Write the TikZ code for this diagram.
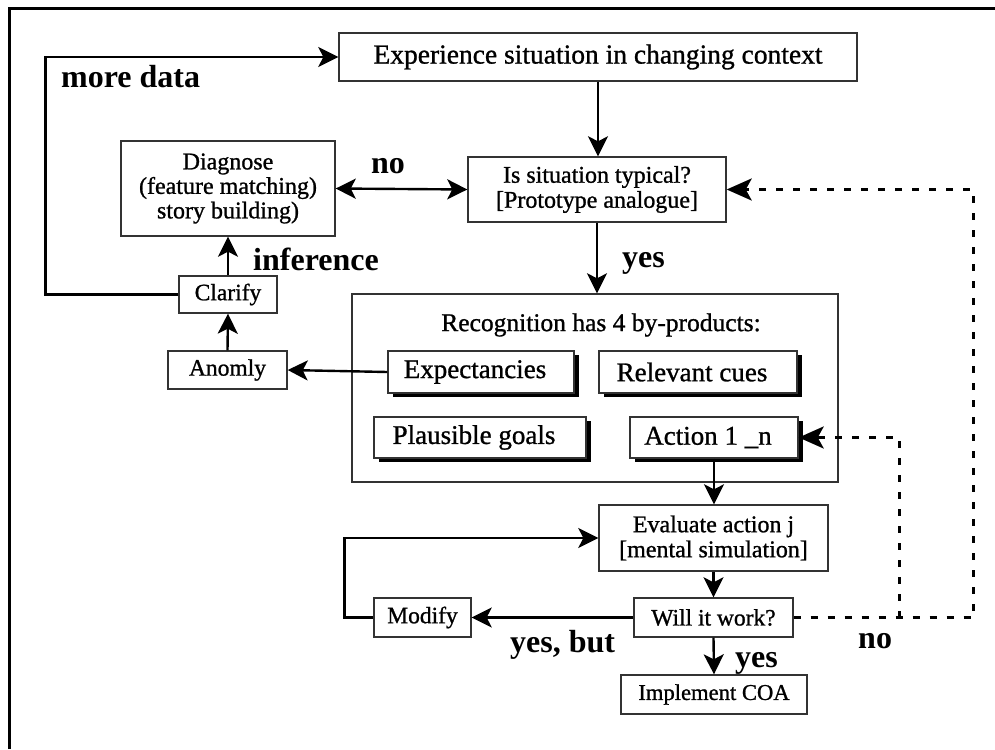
\documentclass[tikz,border=0pt]{standalone}
\usepackage{fontspec}
\setmainfont{Liberation Serif}
\newfontfamily\medfont{Liberation Serif}[FakeBold=1]
\usetikzlibrary{arrows.meta,shadows,calc}
\newcommand\fsz[2]{\fontsize{#1}{#2}\selectfont}
\newcommand\lpad[1]{#1\hspace*{12pt}}
\begin{document}
\begin{tikzpicture}[x=1pt,y=-1pt,
  box/.style={draw=black!80, line width=1.4pt, fill=white, inner sep=0pt, align=center},
  shbox/.style={box, drop shadow={shadow xshift=5pt, shadow yshift=-4pt, fill=black, opacity=1}},
  lbl/.style={font=\bfseries\fsz{32}{34}, inner sep=0pt},
  arr/.style={line width=2.4pt, -{Stealth[length=20pt,width=20pt,inset=5pt]}},
  dblarr/.style={line width=2.4pt, {Stealth[length=20pt,width=20pt,inset=5pt]}-{Stealth[length=20pt,width=20pt,inset=5pt]}},
  dasharr/.style={line width=3pt, dash pattern=on 7pt off 10pt, -{Stealth[length=25pt,width=22pt,inset=6pt]}},
]
% page and frame
\fill[white] (0,0) rectangle (995,749);
\useasboundingbox (0,0) rectangle (995,749);
\draw[line width=3pt] (9.5,749) -- (9.5,8.5) -- (995,8.5);

% main boxes
\node[box, minimum width=518pt, minimum height=48pt, font=\medfont\fsz{27.5}{30}] (exp) at (598,57) {Experience situation in changing context};
\node[box, minimum width=214pt, minimum height=95pt, font=\medfont\fsz{24}{24.5}] (diag) at (228,188.5) {Diagnose\\(feature matching)\\story building)};
\node[box, minimum width=258pt, minimum height=65pt, font=\medfont\fsz{24}{25}] (typ) at (597,189.5) {Is situation typical?\\{[Prototype analogue]}};
\node[box, minimum width=98pt, minimum height=37pt, font=\medfont\fsz{23.5}{25}] (clar) at (228,294.5) {Clarify};
\node[box, minimum width=119pt, minimum height=38pt, font=\medfont\fsz{23.5}{25}] (anom) at (227.5,370) {Anomly};

% recognition group with its four by-products
\node[box, minimum width=486pt, minimum height=188pt] (rec) at (595,388) {};
\node[font=\medfont\fsz{25.5}{27}, inner sep=0pt] (rectitle) at (601,325) {Recognition has 4 by-products:};
\node[shbox, minimum width=186pt, minimum height=42pt, font=\medfont\fsz{27}{29}] (expc) at (481,372) {\lpad{Expectancies}};
\node[shbox, minimum width=198pt, minimum height=42pt, font=\medfont\fsz{27}{29}] (cues) at (698,372) {\lpad{Relevant cues}};
\node[shbox, minimum width=212pt, minimum height=41pt, font=\medfont\fsz{27}{29}] (goals) at (480,437.5) {\lpad{Plausible goals}};
\node[shbox, minimum width=168pt, minimum height=41pt, font=\medfont\fsz{27}{29}] (act) at (714,437.5) {\lpad{Action 1 \_n}};

% evaluation part
\node[box, minimum width=229pt, minimum height=66pt, font=\medfont\fsz{24}{25}] (eval) at (713.5,538) {Evaluate action j\\{[mental simulation]}};
\node[box, minimum width=159pt, minimum height=39pt, font=\medfont\fsz{23.5}{25}] (will) at (713.5,617.5) {Will it work?};
\node[box, minimum width=97pt, minimum height=39pt, font=\medfont\fsz{23.5}{25}] (mod) at (422.5,617.5) {Modify};
\node[box, minimum width=186pt, minimum height=39pt, font=\medfont\fsz{22.6}{24}] (impl) at (714,694.5) {Implement COA};

% connectors
\draw[arr] (exp.south) -- (exp.south |- typ.north);
\draw[arr] (typ.south) -- (typ.south |- rec.north);
\draw[dblarr] (diag.east) -- (typ.west);
\draw[arr] (clar.north) -- (diag.south);
\draw[arr] (anom.north) -- (clar.south);
\draw[arr] (expc.west) -- (anom.east);
\draw[arr] (clar.west) -- ++(-133,0) |- (exp.west);
\draw[arr] (act.south) -- (act.south |- eval.north);
\draw[arr] (eval.south) -- (will.north);
\draw[arr] (will.south) -- (impl.north);
\draw[arr] (will.west) -- (mod.east);
\draw[arr] (mod.west) -- ++(-29,0) |- (eval.west);
\coordinate (br) at ($(will.east)+(106,0)$);
\draw[dasharr] (will.east) -- ++(180,0) |- (typ.east);
\draw[dasharr] (br) |- (act.east);

% connector labels
\node[lbl, anchor=base west] (lmore) at (61,88) {more data};
\node[lbl, anchor=base west] (lno) at (371,173) {no};
\node[lbl, anchor=base west] (lyes) at (622,267) {yes};
\node[lbl, anchor=base west] (linf) at (253,270) {inference};
\node[lbl, anchor=base west] (lbut) at (510,652) {yes, but};
\node[lbl, anchor=base west] (lyes2) at (735,667) {yes};
\node[lbl, anchor=base west] (lno2) at (858,648) {no};
\end{tikzpicture}
\end{document}
